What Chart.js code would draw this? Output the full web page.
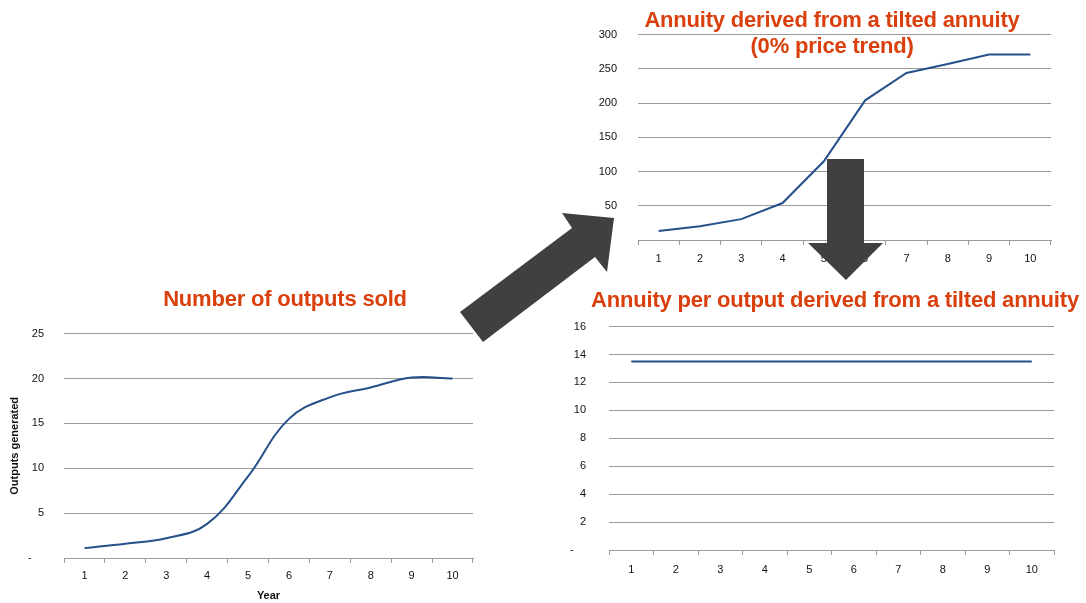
<!DOCTYPE html>
<html>
<head>
<meta charset="utf-8">
<script src="https://cdn.jsdelivr.net/npm/chart.js@4"></script>
<style>
  body { margin: 0; width: 1086px; height: 603px; background: #fff; position: relative; overflow: hidden; font-family: "Liberation Sans", Arial, sans-serif; }
  .box { position: absolute; }
  .ttl { position: absolute; color: #d9400d; font-weight: bold; font-size: 22px; letter-spacing: -0.2px; white-space: nowrap; text-align: center; line-height: 26px; z-index: 2; }
  #arrows { position: absolute; left: 0; top: 0; z-index: 3; pointer-events: none; }
</style>
</head>
<body>

<div class="ttl" style="left:125px; top:286px; width:320px;">Number of outputs sold</div>
<div class="ttl" style="left:632px; top:7px; width:400px;">Annuity derived from a tilted annuity<br>(0% price trend)</div>
<div class="ttl" style="left:580px; top:287px; width:510px;">Annuity per output derived from a tilted annuity</div>

<div class="box" style="left:0px; top:307px; width:480px; height:296px;"><canvas id="c1"></canvas></div>
<div class="box" style="left:590px; top:7px; width:470px; height:263px;"><canvas id="c2"></canvas></div>
<div class="box" style="left:560px; top:297px; width:504px; height:293px;"><canvas id="c3"></canvas></div>

<canvas id="arrows" width="1086" height="603"></canvas>

<script>
var years = ['1', '2', '3', '4', '5', '6', '7', '8', '9', '10'];

// outputs sold per year
var outputsSold = [1.1, 1.6, 2.2, 3.8, 9.1, 15.5, 17.9, 19.0, 20.1, 20.0];

// annuity derived from a tilted annuity (0% price trend)
var annuity = [13, 20, 30.5, 54, 115, 204, 244, 257, 271, 271];

// annuity per output
var annuityPerOutput = [13.5, 13.5, 13.5, 13.5, 13.5, 13.5, 13.5, 13.5, 13.5, 13.5];

var lineColor = '#25508a';
var gridColor = '#9a9a9a';
var fontFam = '"Liberation Sans", Arial, sans-serif';

var makeChart = function(id, data, opt) {
  var ctx = document.getElementById(id).getContext('2d');
  return new Chart(ctx, {
    type: 'line',
    data: {
      labels: years,
      datasets: [{
        data: data,
        borderColor: lineColor,
        borderWidth: 2,
        pointRadius: 0,
        tension: opt.tension,
        fill: false
      }]
    },
    options: {
      responsive: true,
      maintainAspectRatio: false,
      animation: false,
      layout: { padding: { top: 10, right: opt.padRight, bottom: 0, left: 0 } },
      plugins: { legend: { display: false }, tooltip: { enabled: false } },
      scales: {
        x: {
          offset: true,
          grid: { display: true, offset: true, drawOnChartArea: false, drawTicks: true, tickLength: 5, color: gridColor },
          border: { display: true, color: gridColor },
          ticks: { color: '#111', font: { family: fontFam, size: 11 }, padding: opt.xPad, maxRotation: 0 },
          title: opt.xTitle ? { display: true, text: opt.xTitle, color: '#111', font: { family: fontFam, size: 11, weight: 'bold' }, padding: { top: 0, bottom: 0 } } : { display: false },
          afterFit: function(s) { s.height = opt.xh; }
        },
        y: {
          min: 0,
          max: opt.max,
          grid: { color: gridColor, drawTicks: false },
          border: { display: false },
          ticks: {
            stepSize: opt.step,
            color: '#111',
            font: { family: fontFam, size: 11 },
            padding: opt.yPad,
            callback: function(v) { return v === 0 ? '-    ' : v; }
          },
          title: opt.yTitle ? { display: true, text: opt.yTitle, color: '#111', font: { family: fontFam, size: 11, weight: 'bold' }, padding: { top: 8, bottom: 8 } } : { display: false },
          afterFit: function(s) { s.width = opt.yw; }
        }
      }
    }
  });
};

makeChart('c1', outputsSold, { tension: 0.4, max: 25, step: 5, yw: 64, xh: 45, padRight: 7, xPad: 6, yPad: 20, xTitle: 'Year', yTitle: 'Outputs generated' });
makeChart('c2', annuity, { tension: 0, max: 300, step: 50, yw: 48, xh: 30, padRight: 9, xPad: 7, yPad: 21 });
makeChart('c3', annuityPerOutput, { tension: 0, max: 16, step: 2, yw: 49, xh: 40, padRight: 10, xPad: 8, yPad: 23 });

// arrows between the charts
var a = document.getElementById('arrows').getContext('2d');
a.fillStyle = '#404040';
var poly = function(pts) {
  a.beginPath();
  a.moveTo(pts[0][0], pts[0][1]);
  for (var i = 1; i < pts.length; i++) a.lineTo(pts[i][0], pts[i][1]);
  a.closePath();
  a.fill();
};
poly([[460, 312], [572, 228], [562, 213], [614, 218], [607, 272], [595, 257], [483, 342]]);
poly([[827, 159], [864, 159], [864, 243], [883, 243], [846, 280], [808, 243], [827, 243]]);
</script>
</body>
</html>
